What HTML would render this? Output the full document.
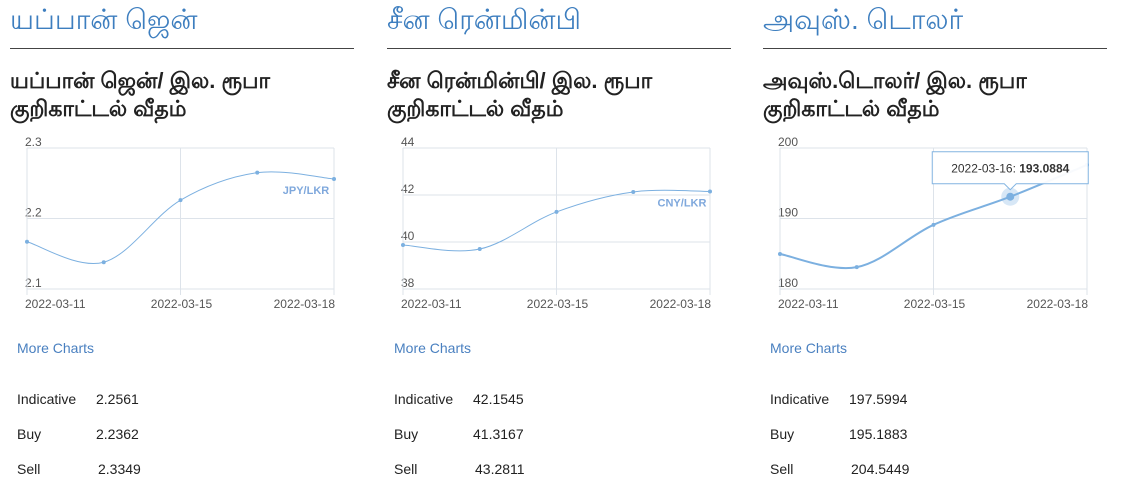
<!DOCTYPE html>
<html><head><meta charset="utf-8">
<style>
body{margin:0;width:1130px;height:503px;background:#fff;font-family:"Liberation Sans",sans-serif;position:relative;overflow:hidden}
.p{position:absolute;top:0;width:345px}
.t{position:absolute;left:0;top:4px;font-size:28px;color:#3d7ebf;white-space:nowrap}
.hr{position:absolute;left:0;top:48px;width:344px;height:1px;background:#444}
.s{position:absolute;left:0;top:67px;font-size:22px;font-weight:bold;color:#222;line-height:28px;white-space:nowrap}
.mc{position:absolute;left:7px;top:340px;font-size:14px;color:#4a80c0}
.r{position:absolute;left:7px;font-size:14px;color:#222}
.r span{position:absolute;white-space:nowrap}
svg{position:absolute;left:0;top:0}
</style></head><body>
<svg id="chart" width="1130" height="330"></svg>
<div class="p" style="left:10px">
<div class="t">யப்பான் ஜென்</div><div class="hr"></div>
<div class="s">யப்பான் ஜென்/ இல. ரூபா<br>குறிகாட்டல் வீதம்</div>
<div class="mc">More Charts</div>
<div class="r" style="top:391px"><span>Indicative</span><span style="left:79px">2.2561</span></div>
<div class="r" style="top:426px"><span>Buy</span><span style="left:79px">2.2362</span></div>
<div class="r" style="top:461px"><span>Sell</span><span style="left:81px">2.3349</span></div>
</div>
<div class="p" style="left:387px">
<div class="t">சீன ரென்மின்பி</div><div class="hr"></div>
<div class="s">சீன ரென்மின்பி/ இல. ரூபா<br>குறிகாட்டல் வீதம்</div>
<div class="mc">More Charts</div>
<div class="r" style="top:391px"><span>Indicative</span><span style="left:79px">42.1545</span></div>
<div class="r" style="top:426px"><span>Buy</span><span style="left:79px">41.3167</span></div>
<div class="r" style="top:461px"><span>Sell</span><span style="left:81px">43.2811</span></div>
</div>
<div class="p" style="left:763px">
<div class="t">அவுஸ். டொலர்</div><div class="hr"></div>
<div class="s">அவுஸ்.டொலர்/ இல. ரூபா<br>குறிகாட்டல் வீதம்</div>
<div class="mc">More Charts</div>
<div class="r" style="top:391px"><span>Indicative</span><span style="left:79px">197.5994</span></div>
<div class="r" style="top:426px"><span>Buy</span><span style="left:79px">195.1883</span></div>
<div class="r" style="top:461px"><span>Sell</span><span style="left:81px">204.5449</span></div>
</div>
<script>
const categories=["2022-03-11","2022-03-14","2022-03-15","2022-03-16","2022-03-18"];
const xLabels=["2022-03-11","","2022-03-15","","2022-03-18"];
const jpyValues=[2.167,2.138,2.226,2.265,2.2561];
const jpyTicks=[2.1,2.2,2.3];
const cnyValues=[39.87,39.70,41.28,42.13,42.15];
const cnyTicks=[38,40,42,44];
const audValues=[184.96,183.10,189.10,193.0884,197.5994];
const audTicks=[180,190,200];
const svg=document.getElementById('chart');
const NS='http://www.w3.org/2000/svg';
function mk(tag,at){const e=document.createElementNS(NS,tag);for(const k in at)e.setAttribute(k,at[k]);svg.appendChild(e);return e;}
function draw(left,values,ticks,label,name,thick,tipIdx){
  const right=left+307,top=148,bot=289;
  const mn=ticks[0],mx=ticks[ticks.length-1];
  const x=i=>left+i*(right-left)/(categories.length-1);
  const y=v=>bot-(v-mn)/(mx-mn)*(bot-top);
  ticks.forEach(t=>{
    const l=mk('line',{x1:left,x2:right,y1:y(t),y2:y(t),stroke:'#dde3ea'});
    
    
    const tx=mk('text',{x:left-2,y:y(t)-2,'font-size':12,fill:'#555','font-family':'Liberation Sans'});
    tx.textContent=t;
    
    
  });
  categories.forEach((c,i)=>{
    if(xLabels[i]){
      mk('line',{x1:x(i),x2:x(i),y1:top,y2:bot+6,stroke:'#dde3ea'});
      const tx=mk('text',{x:i==0?x(i)-2:x(i)+1,y:bot+19,'font-size':12,fill:'#555','text-anchor':i==0?'start':(i==categories.length-1?'end':'middle'),'font-family':'Liberation Sans'});
      tx.textContent=xLabels[i];
      
      
    }
  });
  const pts=values.map((v,i)=>[x(i),y(v)]);
  let d='M'+pts[0][0]+','+pts[0][1];
  for(let i=0;i<pts.length-1;i++){
    const p0=pts[Math.max(0,i-1)],p1=pts[i],p2=pts[i+1],p3=pts[Math.min(pts.length-1,i+2)];
    const k=0.17;
    d+=` C${p1[0]+(p2[0]-p0[0])*k},${p1[1]+(p2[1]-p0[1])*k} ${p2[0]-(p3[0]-p1[0])*k},${p2[1]-(p3[1]-p1[1])*k} ${p2[0]},${p2[1]}`;
  }
  const path=mk('path',{d:d,fill:'none',stroke:'#7cb0e0','stroke-width':thick?2:1});
  
  
  if(label){
    const lb=mk('text',{x:right-28,y:y(values[values.length-1])+15,'font-size':11,'font-weight':'bold',fill:'#7fa8dc','text-anchor':'middle','font-family':'Liberation Sans'});
    lb.textContent=label;
    
    
  }
  pts.forEach((p,i)=>{
    if(i===tipIdx) mk('circle',{cx:p[0],cy:p[1],r:9,fill:'rgba(124,176,224,0.3)'});
    const c=mk('circle',{cx:p[0],cy:p[1],r:i===tipIdx?4:2,fill:'#7cb0e0'});
    
    
  });
  if(tipIdx!=null){
    const px=pts[tipIdx][0],py=pts[tipIdx][1];
    const g=mk('path',{d:`M${px-78},${py-45} h156 v32 h-${72} l-6,6 l-6,-6 h-72 z`,fill:'#fff',stroke:'#7cb0e0','stroke-width':1,opacity:0.95});
    
    
    const tt=mk('text',{x:px,y:py-24,'font-size':12,fill:'#333','text-anchor':'middle','font-family':'Liberation Sans'});
    tt.innerHTML=categories[tipIdx]+': <tspan font-weight="bold">'+values[tipIdx].toFixed(4)+'</tspan>';
  }
}
draw(27,jpyValues,jpyTicks,'JPY/LKR','jpy',false,null);
draw(403,cnyValues,cnyTicks,'CNY/LKR','cny',false,null);
draw(780,audValues,audTicks,null,'aud',true,3);
</script>
</body></html>
